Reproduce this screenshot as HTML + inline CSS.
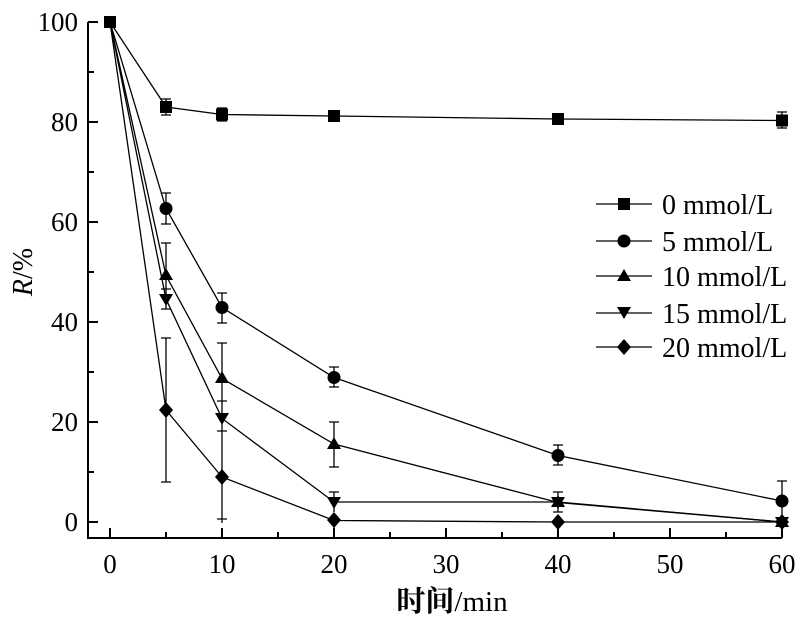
<!DOCTYPE html><html><head><style>body{margin:0;background:#fff}</style></head><body>
<svg width="800" height="620" xmlns="http://www.w3.org/2000/svg" font-family="Liberation Serif, serif">
<g stroke="#000" stroke-width="2" fill="none">
<path d="M88,22V538H782"/>
<path d="M88,22h10M88,122h10M88,222h10M88,322h10M88,422h10M88,522h10M88,72h6M88,172h6M88,272h6M88,372h6M88,472h6"/>
<path d="M110,538v-10M222,538v-10M334,538v-10M446,538v-10M558,538v-10M670,538v-10M782,538v-10M166,538v-6M278,538v-6M390,538v-6M502,538v-6M614,538v-6M726,538v-6"/>
</g>
<g font-size="27" text-anchor="end"><text x="78" y="31">100</text><text x="78" y="131">80</text><text x="78" y="231">60</text><text x="78" y="331">40</text><text x="78" y="431">20</text><text x="78" y="531">0</text></g>
<g font-size="27" text-anchor="middle"><text x="110" y="573">0</text><text x="222" y="573">10</text><text x="334" y="573">20</text><text x="446" y="573">30</text><text x="558" y="573">40</text><text x="670" y="573">50</text><text x="782" y="573">60</text></g>
<text x="452" y="611" font-size="29" text-anchor="middle" font-weight="bold" font-family="Liberation Serif, Noto Serif CJK SC, serif">时间<tspan font-weight="normal">/min</tspan></text>
<text transform="translate(32,272) rotate(-90)" font-size="28" text-anchor="middle"><tspan font-style="italic">R</tspan>/%</text>
<g stroke="#000" stroke-width="1.3" fill="none">
<path d="M110,22L166,107L222,114.5L334,116L558,119L782,120.5"/>
<path d="M110,22L166,208.5L222,307.5L334,377.5L558,455.5L782,501"/>
<path d="M110,22L166,275.5L222,378.5L334,444L558,502.5L782,522"/>
<path d="M110,22L166,299L222,418.5L334,502L558,502L782,522"/>
<path d="M110,22L166,410L222,477L334,520.5L558,522L782,522"/>
<path d="M166,99v16M222,108v13M558,114v10M782,112v16M166,193v31M222,293v30M334,367v20M558,445v20M782,481v40M166,243v65M222,343v70M334,422v45M558,492v20M166,289v20M222,401v35M334,492v20M166,338v144M222,431v92M334,513v15"/>
<path d="M161,99h10M161,115h10M217,108h10M217,121h10M553,114h10M777,112h10M777,128h10M161,193h10M161,224h10M217,293h10M217,323h10M329,367h10M329,387h10M553,445h10M553,465h10M777,481h10M161,243h10M217,343h10M329,422h10M329,467h10M553,492h10M553,512h10M161,289h10M161,309h10M217,401h10M329,492h10M161,338h10M161,482h10M217,431h10M217,519h10"/>
<path d="M596,204h56M596,241h56M596,276h56M596,313h56M596,347h56"/>
</g>
<g fill="#000">
<rect x="104" y="16" width="12" height="12"/><rect x="160" y="101" width="12" height="12"/><rect x="216" y="108.5" width="12" height="12"/><rect x="328" y="110" width="12" height="12"/><rect x="552" y="113" width="12" height="12"/><rect x="776" y="114.5" width="12" height="12"/><rect x="618" y="198" width="12" height="12"/>
<circle cx="166" cy="208.5" r="6.5"/><circle cx="222" cy="307.5" r="6.5"/><circle cx="334" cy="377.5" r="6.5"/><circle cx="558" cy="455.5" r="6.5"/><circle cx="782" cy="501" r="6.5"/><circle cx="624" cy="241" r="6.5"/>
<path d="M166,268l7,12h-14zM222,371l7,12h-14zM334,437l7,12h-14zM558,495l7,12h-14zM782,515l7,12h-14zM624,269l7,12h-14z"/>
<path d="M166,306l7,-12h-14zM222,425l7,-12h-14zM334,509l7,-12h-14zM558,509l7,-12h-14zM782,529l7,-12h-14zM624,319l7,-12h-14z"/>
<path d="M166,402l7,8l-7,8l-7,-8zM222,469l7,8l-7,8l-7,-8zM334,512l7,8l-7,8l-7,-8zM558,514l7,8l-7,8l-7,-8zM782,514l7,8l-7,8l-7,-8zM624,339l7,8l-7,8l-7,-8z"/>
</g>
<g font-size="28"><text x="662" y="214">0 mmol/L</text><text x="662" y="251">5 mmol/L</text><text x="662" y="286">10 mmol/L</text><text x="662" y="323">15 mmol/L</text><text x="662" y="357">20 mmol/L</text></g>
</svg></body></html>
